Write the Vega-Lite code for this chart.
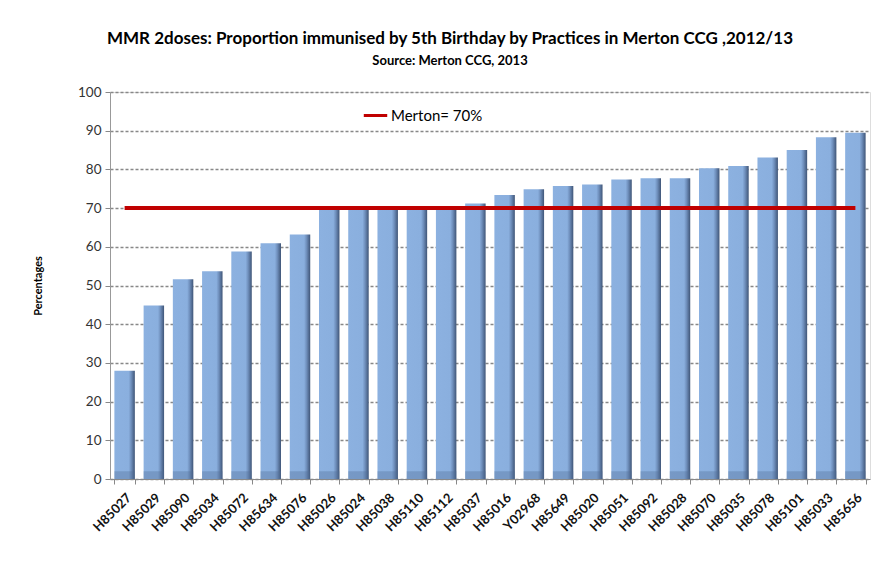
{
  "$schema": "https://vega.github.io/schema/vega-lite/v6.json",
  "width": 760,
  "height": 387,
  "autosize": {"type": "none"},
  "padding": {"left": 110, "top": 92, "right": 2, "bottom": 99},
  "background": "white",
  "config": {
    "axisY": {
      "titleFont": "Lato",
      "titleFontSize": 11,
      "titleFontWeight": "bold",
      "titleColor": "#000000",
      "titlePadding": 34,
      "labelFont": "Lato",
      "labelFontSize": 13.5,
      "labelColor": "#333333",
      "labelPadding": 4,
      "labelOverlap": false,
      "tickColor": "#888888",
      "tickSize": 5,
      "domainColor": "#999999",
      "grid": true,
      "gridColor": "#888888",
      "gridDash": [3, 2],
      "gridWidth": 1.3
    }
  },
  "title": {
    "text": "MMR 2doses: Proportion immunised by 5th Birthday by Practices in Merton CCG ,2012/13",
    "subtitle": "Source: Merton CCG, 2013",
    "anchor": "middle",
    "dx": -40,
    "offset": 16,
    "font": "Lato",
    "fontSize": 17,
    "fontWeight": "bold",
    "color": "#000000",
    "subtitleFont": "Lato",
    "subtitleFontSize": 13,
    "subtitleFontWeight": "bold",
    "subtitleColor": "#000000",
    "subtitlePadding": 7
  },
  "data": {
    "values": [
      {"practice": "H85027", "value": 28.0, "merton": 70},
      {"practice": "H85029", "value": 44.8, "merton": 70},
      {"practice": "H85090", "value": 51.6, "merton": 70},
      {"practice": "H85034", "value": 53.7, "merton": 70},
      {"practice": "H85072", "value": 58.8, "merton": 70},
      {"practice": "H85634", "value": 60.9, "merton": 70},
      {"practice": "H85076", "value": 63.2, "merton": 70},
      {"practice": "H85026", "value": 70.0, "merton": 70},
      {"practice": "H85024", "value": 70.0, "merton": 70},
      {"practice": "H85038", "value": 70.0, "merton": 70},
      {"practice": "H85110", "value": 70.0, "merton": 70},
      {"practice": "H85112", "value": 70.0, "merton": 70},
      {"practice": "H85037", "value": 71.2, "merton": 70},
      {"practice": "H85016", "value": 73.4, "merton": 70},
      {"practice": "Y02968", "value": 74.9, "merton": 70},
      {"practice": "H85649", "value": 75.7, "merton": 70},
      {"practice": "H85020", "value": 76.1, "merton": 70},
      {"practice": "H85051", "value": 77.4, "merton": 70},
      {"practice": "H85092", "value": 77.7, "merton": 70},
      {"practice": "H85028", "value": 77.7, "merton": 70},
      {"practice": "H85070", "value": 80.3, "merton": 70},
      {"practice": "H85035", "value": 80.9, "merton": 70},
      {"practice": "H85078", "value": 83.1, "merton": 70},
      {"practice": "H85101", "value": 85.0, "merton": 70},
      {"practice": "H85033", "value": 88.3, "merton": 70},
      {"practice": "H85656", "value": 89.5, "merton": 70}
    ]
  },
  "encoding": {
    "x": {
      "field": "practice",
      "type": "nominal",
      "sort": null,
      "scale": {"paddingInner": 0.3, "paddingOuter": 0.15},
      "axis": {
        "title": null,
        "labelAngle": -45,
        "labelFont": "Lato",
        "labelFontSize": 13,
        "labelFontWeight": "bold",
        "labelColor": "#111111",
        "labelPadding": 7,
        "tickBand": "extent",
        "tickColor": "#888888",
        "tickSize": 5,
        "domainColor": "#888888",
        "grid": false
      }
    }
  },
  "layer": [
    {
      "mark": {
        "type": "bar",
        "color": {
          "gradient": "linear",
          "x1": 0, "x2": 1, "y1": 0, "y2": 0,
          "stops": [
            {"offset": 0, "color": "#8CB1E0"},
            {"offset": 0.7, "color": "#8AAFDE"},
            {"offset": 0.82, "color": "#6F8FBC"},
            {"offset": 1, "color": "#3F5577"}
          ]
        }
      },
      "encoding": {
        "y": {
          "field": "value",
          "type": "quantitative",
          "scale": {"domain": [0, 100]},
          "axis": {"title": "Percentages", "values": [0, 10, 20, 30, 40, 50, 60, 70, 80, 90, 100]}
        }
      }
    },
    {
      "mark": {"type": "bar", "color": "#4F6C95", "opacity": 0.35},
      "encoding": {
        "y": {"datum": 0, "axis": {"title": "Percentages", "values": [0, 10, 20, 30, 40, 50, 60, 70, 80, 90, 100]}},
        "y2": {"datum": 2}
      }
    },
    {
      "mark": {"type": "line", "strokeWidth": 4},
      "encoding": {
        "y": {"field": "merton", "type": "quantitative", "axis": {"title": "Percentages", "values": [0, 10, 20, 30, 40, 50, 60, 70, 80, 90, 100]}},
        "color": {
          "datum": "Merton= 70%",
          "type": "nominal",
          "scale": {"range": ["#C00000"]},
          "legend": {
            "title": null,
            "orient": "none",
            "legendX": 252,
            "legendY": 10,
            "symbolType": "stroke",
            "symbolStrokeWidth": 3,
            "symbolSize": 550,
            "labelFont": "Lato",
            "labelFontSize": 15,
            "labelColor": "#000000",
            "labelOffset": 2
          }
        }
      }
    }
  ]
}
